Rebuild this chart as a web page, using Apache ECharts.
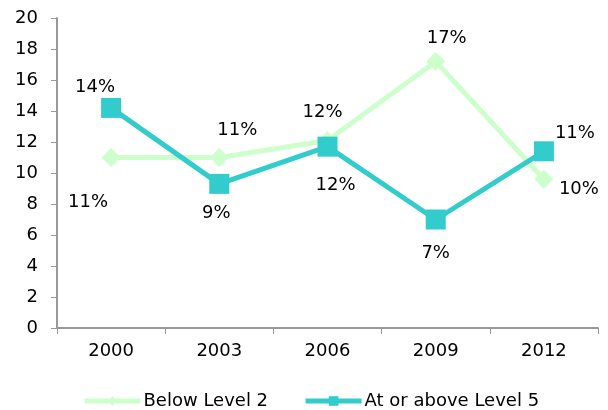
<!DOCTYPE html>
<html>
<head>
<meta charset="utf-8">
<script src="https://cdn.jsdelivr.net/npm/echarts@6/dist/echarts.min.js"></script>
<style>html,body{margin:0;padding:0;background:#fff}#c{width:608px;height:410px}</style>
</head>
<body>
<div id="c"></div>
<script>
var categories = ['2000', '2003', '2006', '2009', '2012'];
var belowLevel2 = [11.0, 11.0, 12.1, 17.2, 9.6];
var level5 = [14.2, 9.3, 11.7, 7.0, 11.4];
var seriesNames = ['Below Level 2', 'At or above Level 5'];

// label offsets (style only)
var belowOffsets = [[-23, 45], [18, -27], [-5, -28], [11, -23], [35, 10]];
var level5Offsets = [[-16, -21], [-3, 29], [8, 39], [0, 34], [31, -18]];

var FONT = 'DejaVu Sans';

function buildData(values, offsets) {
  return values.map(function (v, i) {
    return {
      value: v,
      label: { offset: offsets[i] }
    };
  });
}

var labelBase = {
  show: true,
  position: 'inside',
  color: '#000',
  fontFamily: FONT,
  fontSize: 18,
  formatter: function (p) { return Math.round(p.value) + '%'; }
};

var chart = echarts.init(document.getElementById('c'), null, { renderer: 'canvas' });
chart.setOption({
  animation: false,
  backgroundColor: '#fff',
  textStyle: { fontFamily: FONT },
  grid: { left: 57, right: 10, top: 18, bottom: 82, containLabel: false },
  legend: {
    data: seriesNames,
    left: 82,
    top: 392,
    padding: 0,
    itemWidth: 56,
    itemHeight: 12,
    itemGap: 35,
    lineStyle: { width: 5 },
    textStyle: { fontFamily: FONT, fontSize: 18, color: '#000', padding: [0, 0, 0, -2] }
  },
  xAxis: {
    type: 'category',
    data: categories,
    boundaryGap: true,
    axisLine: { lineStyle: { color: '#999', width: 2 } },
    axisTick: { show: true, alignWithLabel: false, length: 6, lineStyle: { color: '#999', width: 1 } },
    axisLabel: { color: '#000', fontFamily: FONT, fontSize: 18, margin: 14 },
    splitLine: { show: false }
  },
  yAxis: {
    type: 'value',
    min: 0,
    max: 20,
    interval: 2,
    axisLine: { show: true, lineStyle: { color: '#999', width: 2 } },
    axisTick: { show: true, length: 6, lineStyle: { color: '#999', width: 1 } },
    axisLabel: { color: '#000', fontFamily: FONT, fontSize: 18, margin: 19 },
    splitLine: { show: false }
  },
  series: [
    {
      name: seriesNames[0],
      type: 'line',
      data: buildData(belowLevel2, belowOffsets),
      symbol: 'diamond',
      symbolSize: 19,
      lineStyle: { color: '#ccffcc', width: 5 },
      itemStyle: { color: '#ccffcc' },
      label: labelBase
    },
    {
      name: seriesNames[1],
      type: 'line',
      data: buildData(level5, level5Offsets),
      symbol: 'rect',
      symbolSize: 20,
      lineStyle: { color: '#33cccc', width: 5 },
      itemStyle: { color: '#33cccc' },
      label: labelBase
    }
  ]
});
</script>
</body>
</html>
